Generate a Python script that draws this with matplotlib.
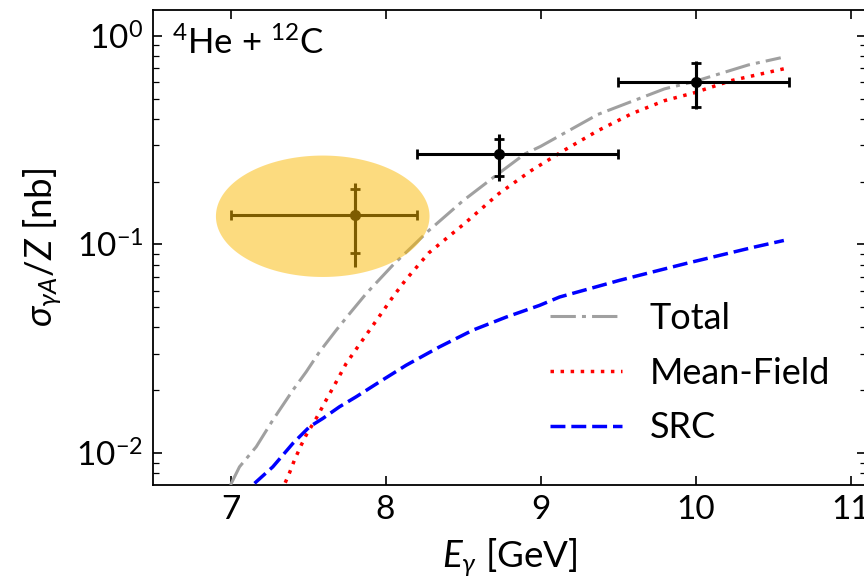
import numpy as np
import matplotlib
matplotlib.use("Agg")
import matplotlib.pyplot as plt
from matplotlib.ticker import NullLocator, LogLocator

plt.rcParams['font.family'] = ['Lato', 'DejaVu Sans']
plt.rcParams['mathtext.fontset'] = 'custom'
plt.rcParams['mathtext.rm'] = 'Lato'
plt.rcParams['mathtext.it'] = 'Lato:italic'
plt.rcParams['mathtext.bf'] = 'Lato:bold'
plt.rcParams['mathtext.fallback'] = 'stixsans'

# ---- data ----
total_E = [7.0, 7.058, 7.166, 7.273, 7.402, 7.488, 7.574, 7.682, 7.768, 7.875, 8.05, 8.28, 8.5,
           8.73, 8.9, 9.0, 9.37, 9.8, 9.99, 10.34, 10.55]
total_xs = [0.00703, 0.00859, 0.01072, 0.01439, 0.0200, 0.02449, 0.03055, 0.03882, 0.04656, 0.05808,
            0.080, 0.1167, 0.162, 0.219, 0.272, 0.295, 0.42, 0.557, 0.603, 0.725, 0.785]

mf_E = [7.353, 7.381, 7.413, 7.456, 7.488, 7.553, 7.617, 7.682, 7.746, 7.821, 7.897, 7.972, 8.047,
        8.13, 8.28, 8.51, 8.73, 8.94, 9.15, 9.37, 9.59, 9.80, 9.99, 10.23, 10.57]
mf_xs = [0.00721, 0.00805, 0.00927, 0.01091, 0.01219, 0.01466, 0.01795, 0.02193, 0.02685, 0.03228,
         0.03882, 0.04656, 0.05598, 0.0676, 0.0912, 0.126, 0.175, 0.226, 0.282, 0.351, 0.424, 0.489,
         0.533, 0.610, 0.695]

src_E = [7.155, 7.273, 7.402, 7.510, 7.596, 7.703, 7.811, 7.961, 8.133, 8.348, 8.563, 8.779, 8.994,
         9.123, 9.51, 9.94, 10.37, 10.57]
src_xs = [0.00716, 0.00859, 0.01112, 0.01337, 0.01466, 0.01667, 0.01862, 0.02193, 0.02636, 0.03228,
          0.03882, 0.04487, 0.05105, 0.05598, 0.0673, 0.0811, 0.0968, 0.1045]

pt_E = [7.8, 8.73, 10.0]
pt_xs = [0.138, 0.270, 0.604]
pt_E_lo = [7.0, 8.2, 9.5]
pt_E_hi = [8.2, 9.5, 10.6]
pt_stat_lo = [0.0906, 0.214, 0.457]
pt_stat_hi = [0.185, 0.321, 0.745]
pt_tot_lo = [0.0776, 0.202, 0.448]
pt_tot_hi = [0.196, 0.340, 0.759]

# highlight ellipse (centre E, centre sigma, half-width E, half-height in decades)
ell_E, ell_xs, ell_dE, ell_ddec = 7.595, 0.1365, 0.689, 0.291

# ---- figure ----
fig = plt.figure(figsize=(8.64, 5.77), dpi=100)
ax = fig.add_axes([153/864, 92/577, 713/864, 475/577])

ax.plot(total_E, total_xs, color='#a0a0a0', lw=2.2, linestyle=(0, (8.3, 2.0, 1.3, 2.0)),
        label='Total', zorder=3)
ax.plot(mf_E, mf_xs, color='red', lw=2.5, linestyle=(0, (1, 1.9)), label='Mean-Field', zorder=3)
ax.plot(src_E, src_xs, color='blue', lw=2.5, linestyle=(0, (4.3, 1.7)), label='SRC', zorder=3)

pE = np.array(pt_E); pS = np.array(pt_xs)
xerr = [pE - np.array(pt_E_lo), np.array(pt_E_hi) - pE]
yerr_stat = [pS - np.array(pt_stat_lo), np.array(pt_stat_hi) - pS]
yerr_tot = [pS - np.array(pt_tot_lo), np.array(pt_tot_hi) - pS]
ax.errorbar(pE, pS, yerr=yerr_tot, fmt='none', ecolor='black', elinewidth=2.2, capsize=0, zorder=4)
ax.errorbar(pE, pS, xerr=xerr, yerr=yerr_stat, fmt='o', color='black', ms=7, elinewidth=2.2,
            capsize=3.8, capthick=2.0, zorder=4)

t = np.linspace(0, 2*np.pi, 300)
ex = ell_E + ell_dE*np.cos(t)
ey = ell_xs * 10**(ell_ddec*np.sin(t))
ax.fill(ex, ey, color='#fbb800', alpha=0.5, lw=0, zorder=5)

ax.set_yscale('log')
ax.set_xlim(6.5, 11.1)
ax.set_ylim(0.00703, 1.33)
ax.set_xticks([7, 8, 9, 10, 11])
ax.xaxis.set_minor_locator(NullLocator())
ax.yaxis.set_minor_locator(LogLocator(base=10, subs=np.arange(2, 10), numticks=20))
ax.tick_params(which='both', direction='in', top=True, right=True, labelsize=24)
ax.tick_params(which='major', length=6.5, width=1.2)
ax.tick_params(which='minor', length=4, width=0.9)
ax.tick_params(axis='y', which='major', pad=7)
ax.tick_params(axis='x', which='major', pad=7)
for s in ax.spines.values():
    s.set_linewidth(1.3)

ax.set_xlabel(r'$E_\gamma$ [GeV]', fontsize=26.5, labelpad=8.5)
ax.set_ylabel(r'$\sigma_{\gamma A}/Z$ [nb]', fontsize=26.5, labelpad=9)

ax.text(0.026, 0.967, r'$^{4}$He + $^{12}$C', transform=ax.transAxes, fontsize=25,
        ha='left', va='top')

ax.legend(loc='upper left', bbox_to_anchor=(0.557, 0.385), frameon=False, fontsize=26,
          handlelength=2.0, handletextpad=0.75, labelspacing=0.6, borderpad=0, borderaxespad=0)

fig.savefig('out.png', dpi=100)
